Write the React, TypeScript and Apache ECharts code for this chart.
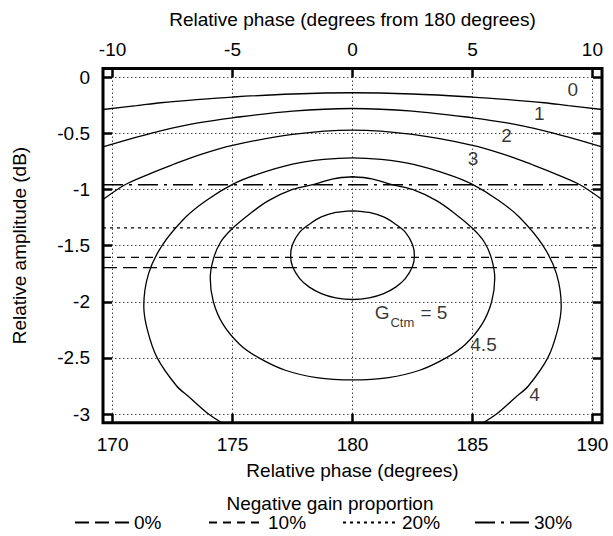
import React, { useEffect, useRef } from 'react';
import * as echarts from 'echarts';

const FONT = '"Liberation Sans", Arial, Helvetica, sans-serif';
const FS = 19;

const X_MIN = 169.6;
const X_MAX = 190.4;
const X2_MIN = -10.4;
const X2_MAX = 10.4;
const Y_MIN = -3.077;
const Y_MAX = 0.077;

const xTicks = [170, 175, 180, 185, 190];
const x2Ticks = [-10, -5, 0, 5, 10];
const yTicks = [0, -0.5, -1, -1.5, -2, -2.5, -3];

// contour curves: [phase (deg), amplitude (dB)]
const contourG1 = [[169.6,-0.288],[171,-0.254],[172,-0.228],[173.5,-0.2],[175,-0.177],[177.5,-0.15],[180,-0.139],[182.5,-0.15],[185,-0.177],[186.5,-0.2],[188,-0.228],[189,-0.254],[190.4,-0.288]];
const contourG2 = [[169.6,-0.62],[171,-0.535],[172,-0.478],[173.5,-0.41],[175,-0.362],[177.5,-0.302],[180,-0.279],[182.5,-0.302],[185,-0.362],[186.5,-0.41],[188,-0.478],[189,-0.535],[190.4,-0.62]];
const contourG3 = [[169.6,-1.09],[170.5,-0.96],[171.5,-0.865],[172.5,-0.78],[173.5,-0.7],[175,-0.607],[177.5,-0.51],[180,-0.472],[182.5,-0.51],[185,-0.607],[186.5,-0.7],[187.5,-0.78],[188.5,-0.865],[189.5,-0.96],[190.4,-1.09]];
const contourG4 = [[174.55,-3.077],[174.0,-3.0],[173.2,-2.85],[172.67,-2.75],[171.86,-2.5],[171.45,-2.25],[171.3,-2.04],[171.5,-1.75],[172.06,-1.5],[173.03,-1.25],[173.89,-1.1],[175.0,-0.955],[176.0,-0.868],[177.5,-0.775],[178.8,-0.733],[180,-0.718],[181.2,-0.733],[182.5,-0.775],[184.0,-0.868],[185.0,-0.955],[186.11,-1.1],[186.97,-1.25],[187.94,-1.5],[188.5,-1.75],[188.7,-2.04],[188.55,-2.25],[188.14,-2.5],[187.33,-2.75],[186.8,-2.85],[186.0,-3.0],[185.45,-3.077]];
const contourG45 = [[180,-0.887],[179.2,-0.905],[178.4,-0.955],[177.5,-1.0],[176.5,-1.1],[175.7,-1.22],[175,-1.346],[174.5,-1.47],[174.2,-1.62],[174.07,-1.79],[174.2,-2.0],[174.6,-2.2],[175.3,-2.38],[176.1,-2.5],[177.2,-2.61],[178.5,-2.675],[180,-2.696],[181.5,-2.675],[182.8,-2.61],[183.9,-2.5],[184.7,-2.38],[185.4,-2.2],[185.8,-2.0],[185.93,-1.79],[185.8,-1.62],[185.5,-1.47],[185,-1.346],[184.3,-1.22],[183.5,-1.1],[182.5,-1.0],[181.6,-0.955],[180.8,-0.905],[180,-0.887]];
const contourG5 = [[180,-1.19],[179.3,-1.205],[178.7,-1.245],[178.2,-1.31],[177.8,-1.38],[177.5,-1.49],[177.42,-1.59],[177.5,-1.686],[177.8,-1.794],[178.2,-1.87],[178.7,-1.927],[179.3,-1.965],[180,-1.98],[180.7,-1.965],[181.3,-1.927],[181.8,-1.87],[182.2,-1.794],[182.5,-1.686],[182.58,-1.59],[182.5,-1.49],[182.2,-1.38],[181.8,-1.31],[181.3,-1.245],[180.7,-1.205],[180,-1.19]];

const contours = [contourG1, contourG2, contourG3, contourG4, contourG45, contourG5];

// negative gain proportion lines
const hLineNames = ['0%', '10%', '20%', '30%'];
const hLineValues = [-1.697, -1.604, -1.343, -0.958];
const hLineDash = [[14, 6], [8, 6], [3, 4], [20, 6, 3, 6]];
const legendLefts = [74, 208, 342, 474];

// contour labels: [phase, amplitude, text]
const contourLabels: [number, number, string][] = [
  [189.18, -0.108, '0'],
  [187.79, -0.325, '1'],
  [186.42, -0.516, '2'],
  [185.02, -0.725, '3'],
  [187.59, -2.83, '4'],
  [185.46, -2.384, '4.5'],
  [182.44, -2.10, '{g|G}{s|Ctm}{g| = 5}'],
];

export default function App() {
  const ref = useRef<HTMLDivElement>(null);
  useEffect(() => {
    if (!ref.current) return;
    const chart = echarts.init(ref.current, undefined, { renderer: 'svg' });
    const txt = { color: '#000', fontSize: FS, fontFamily: FONT };
    const series: any[] = [];
    contours.forEach((c, i) => {
      series.push({
        type: 'line', name: 'c' + i, data: c, xAxisIndex: 0, yAxisIndex: 0,
        showSymbol: false, symbol: 'none', smooth: 0.35, clip: true, silent: true,
        lineStyle: { color: '#000', width: 1.3 }, z: 3,
      });
    });
    hLineNames.forEach((n, i) => {
      series.push({
        type: 'line', name: n, data: [[X_MIN, hLineValues[i]], [X_MAX, hLineValues[i]]],
        xAxisIndex: 0, yAxisIndex: 0, showSymbol: false, symbol: 'none', silent: true,
        lineStyle: { color: '#000', width: 1.3, type: hLineDash[i] }, itemStyle: { color: '#000' }, z: 3,
      });
    });
    series.push({
      type: 'scatter', name: 'labels', symbolSize: 0, silent: true, z: 5,
      data: contourLabels.map(([x, y, t]) => ({ value: [x, y], label: { formatter: t } })),
      label: {
        show: true, position: 'inside', ...txt,
        rich: {
          g: { fontSize: FS, fontFamily: FONT, color: '#000', lineHeight: 20, verticalAlign: 'top' },
          s: { fontSize: 13, fontFamily: FONT, color: '#000', lineHeight: 14, verticalAlign: 'top', padding: [13, 1, 0, 1] },
        },
      },
    });
    const tickStyle = { color: '#000', width: 2.5 };
    chart.setOption({
      animation: false,
      backgroundColor: '#fff',
      grid: { left: 103, right: 11, top: 68.5, bottom: 113.3, show: true, borderColor: '#000', borderWidth: 3, backgroundColor: 'transparent', containLabel: false, outerBoundsMode: 'none' },
      legend: hLineNames.map((n, i) => ({
        data: [n], left: legendLefts[i], top: 513, itemWidth: 54, itemHeight: 12,
        selectedMode: false, padding: 0,
        textStyle: { ...txt },
        itemStyle: { opacity: 0, borderWidth: 0 },
      })),
      graphic: [{
        type: 'text', x: 330, y: 503,
        style: { text: 'Negative gain proportion', font: `${FS}px ${FONT}`, fill: '#000', align: 'center', verticalAlign: 'middle', textAlign: 'center', textVerticalAlign: 'middle' },
      }],
      xAxis: [
        {
          type: 'value', position: 'bottom', min: X_MIN, max: X_MAX,
          axisLine: { show: false, onZero: false },
          axisTick: { show: true, inside: true, length: 9, customValues: xTicks, lineStyle: tickStyle },
          axisLabel: { show: true, customValues: xTicks, margin: 12, ...txt },
          splitLine: { show: true, lineStyle: { color: '#444', width: 1, type: [1.5, 2.5] } },
          name: 'Relative phase (degrees)', nameLocation: 'middle', nameGap: 38, nameTextStyle: txt,
        },
        {
          type: 'value', position: 'top', min: X2_MIN, max: X2_MAX,
          axisLine: { show: false, onZero: false },
          axisTick: { show: true, inside: true, length: 9, customValues: x2Ticks, lineStyle: tickStyle },
          axisLabel: { show: true, customValues: x2Ticks, margin: 10, ...txt },
          splitLine: { show: false },
          name: 'Relative phase (degrees from 180 degrees)', nameLocation: 'middle', nameGap: 40, nameTextStyle: txt,
        },
      ],
      yAxis: [
        {
          type: 'value', position: 'left', min: Y_MIN, max: Y_MAX,
          axisLine: { show: false, onZero: false },
          axisTick: { show: true, inside: true, length: 9, customValues: yTicks, lineStyle: tickStyle },
          axisLabel: { show: true, customValues: yTicks, margin: 13, ...txt },
          splitLine: { show: true, lineStyle: { color: '#444', width: 1, type: [1.5, 2.5] } },
          name: 'Relative amplitude (dB)', nameLocation: 'middle', nameGap: 74, nameTextStyle: txt,
        },
        {
          type: 'value', position: 'right', min: Y_MIN, max: Y_MAX,
          axisLine: { show: false, onZero: false },
          axisTick: { show: true, inside: true, length: 9, customValues: yTicks, lineStyle: tickStyle },
          axisLabel: { show: false },
          splitLine: { show: false },
        },
      ],
      series,
    });
    return () => chart.dispose();
  }, []);
  return <div ref={ref} style={{ position: 'fixed', left: 0, top: 0, width: 613, height: 536 }} />;
}
